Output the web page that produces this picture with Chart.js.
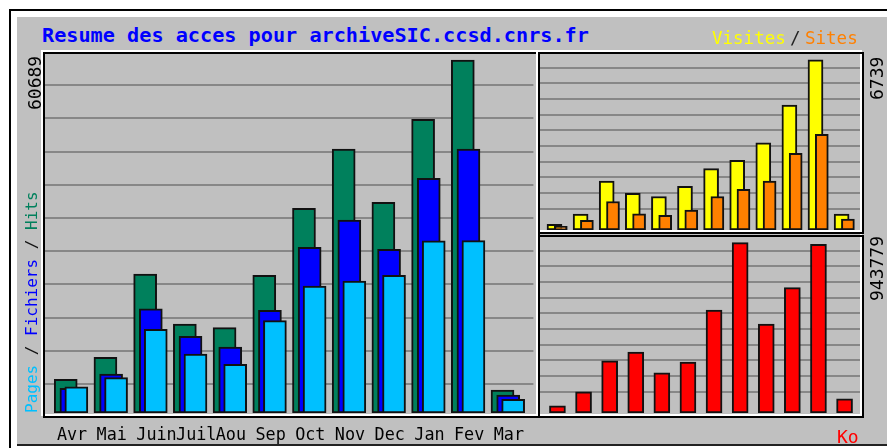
<!DOCTYPE html>
<html>
<head>
<meta charset="utf-8">
<script src="https://cdn.jsdelivr.net/npm/chart.js@4.4.0/dist/chart.umd.min.js"></script>
<style>
  html, body { margin: 0; padding: 0; background: #fff; width: 887px; height: 448px; overflow: hidden; }
  #page { position: relative; width: 887px; height: 448px; overflow: hidden; }
  .outer { position: absolute; left: 9px; top: 9px; width: 900px; height: 460px; border-left: 2px solid #000; border-top: 2px solid #000; }
  .panel { position: absolute; left: 17px; top: 17px; width: 880px; height: 427px; background: #c0c0c0; border-bottom: 2px solid #222; }
  canvas { position: absolute; }
  .frame { position: absolute; box-sizing: border-box; }
  .white { border: 2px solid #fff; }
  .black { border: 2px solid #000; }
  .txt { position: absolute; white-space: nowrap; font-family: "DejaVu Sans Mono", monospace; line-height: 1; }
  .up { transform: rotate(-90deg); transform-origin: 0 0; }
</style>
</head>
<body>
<div id="page">
  <div class="outer"></div>
  <div class="panel"></div>

  <canvas id="mainChart" width="494" height="394" style="left:43px;top:52px"></canvas>
  <canvas id="visitChart" width="322" height="178" style="left:539px;top:52px"></canvas>
  <canvas id="kbChart" width="322" height="178" style="left:539px;top:235px"></canvas>

  <!-- sunken frames like the original graph -->
  <div class="frame white" style="left:41px;top:50px;width:497px;height:366px"></div>
  <div class="frame black" style="left:43px;top:52px;width:497px;height:366px"></div>
  <div class="frame white" style="left:536px;top:50px;width:326px;height:182px"></div>
  <div class="frame black" style="left:538px;top:52px;width:326px;height:182px"></div>
  <div class="frame white" style="left:536px;top:234px;width:326px;height:182px;border-top:none"></div>
  <div class="frame black" style="left:538px;top:235px;width:326px;height:183px"></div>

  <div class="txt" style="left:42px;top:25px;font-size:20.2px;font-weight:bold;color:#0000ff">Resume des acces pour archiveSIC.ccsd.cnrs.fr</div>
  <div class="txt" style="left:712px;top:30px;font-size:17.5px;color:#ffff00">Visites</div>
  <div class="txt" style="left:790px;top:30px;font-size:17.5px;color:#222">/</div>
  <div class="txt" style="left:805px;top:30px;font-size:17.5px;color:#ff8000">Sites</div>
  <div class="txt up" style="left:23.5px;top:413px;font-size:16px"><span style="color:#00c0ff">Pages</span><span style="color:#111"> / </span><span style="color:#0000ff">Fichiers</span><span style="color:#111"> / </span><span style="color:#00805c">Hits</span></div>
  <div class="txt up" id="maxHits" style="left:26px;top:109.5px;font-size:18px;color:#000"></div>
  <div class="txt up" id="maxVisits" style="left:868px;top:99.5px;font-size:18px;color:#000"></div>
  <div class="txt up" id="maxKb" style="left:868px;top:301px;font-size:18px;color:#000"></div>
  <div class="txt" style="left:837px;top:428px;font-size:18px;color:#ff0000">Ko</div>
</div>

<script>
const months = ["Avr", "Mai", "Juin", "Juil", "Aou", "Sep", "Oct", "Nov", "Dec", "Jan", "Fev", "Mar"]

const hits = [5790, 9580, 23900, 15300, 14670, 23670, 35190, 45390, 36220, 50490, 60689, 3950]
const files = [4250, 6700, 17930, 13190, 11350, 17660, 28490, 33180, 28140, 40350, 45390, 3100]
const pages = [4520, 6070, 14390, 10140, 8370, 15870, 21830, 22690, 23670, 29620, 29640, 2360]

const visits = [225, 631, 1943, 1458, 1328, 1734, 2432, 2759, 3456, 4954, 6739, 631]
const sites = [146, 382, 1131, 642, 579, 788, 1328, 1616, 1943, 3035, 3795, 434]

const kbytes = [40400, 117800, 289300, 337500, 222900, 282100, 569800, 943779, 492300, 694800, 934900, 79100]

document.getElementById("maxHits").textContent = Math.max(...hits)
document.getElementById("maxVisits").textContent = Math.max(...visits)
document.getElementById("maxKb").textContent = Math.max(...kbytes)

// bars sit a little right of each month index so the three overlap like webalizer
function points(values, shift) {
  return values.map((v, i) => ({ x: i + shift, y: v }))
}

function bars(label, values, shift, color, thickness, order) {
  return {
    label: label,
    data: points(values, shift),
    backgroundColor: color,
    borderColor: "#111",
    borderWidth: 2,
    borderSkipped: false,
    barThickness: thickness,
    grouped: false,
    order: order,
  }
}

// evenly spaced horizontal rules counted from the top of the plot
function gridAxis(count) {
  return {
    axis: "y",
    position: "left",
    reverse: true,
    min: 0,
    max: count,
    afterBuildTicks: (scale) => {
      scale.ticks = [1, 2, 3, 4, 5, 6, 7, 8, 9, 10].map((v) => ({ value: v }))
    },
    ticks: { display: false },
    grid: { color: "#878787", lineWidth: 2, drawTicks: false },
    border: { display: false },
    afterFit: (scale) => { scale.width = 0 },
  }
}

const common = {
  responsive: false,
  animation: false,
  events: [],
  layout: { padding: 0, autoPadding: false },
  plugins: { legend: { display: false }, tooltip: { enabled: false } },
}

new Chart(document.getElementById("mainChart"), {
  type: "bar",
  data: {
    datasets: [
      bars("Pages", pages, 0.49, "#00c0ff", 23, 0),
      bars("Fichiers", files, 0.365, "#0000ff", 23, 1),
      bars("Hits", hits, 0.2225, "#00805c", 23, 2),
    ],
  },
  options: {
    ...common,
    scales: {
      x: {
        type: "linear",
        offset: false,
        min: -0.35,
        max: 12.0,
        afterBuildTicks: (scale) => {
          scale.ticks = months.map((m, i) => ({ value: i }))
        },
        ticks: {
          callback: (value) => months[value],
          font: { family: "DejaVu Sans Mono", size: 16.8 },
          color: "#000",
          padding: 13,
          align: "start",
          autoSkip: false,
          maxRotation: 0,
          minRotation: 0,
        },
        grid: { display: false, drawTicks: false, offset: false },
        border: { display: false },
        afterFit: (scale) => { scale.height = 33 },
      },
      y: { display: false, min: 0, max: 62063 },
      yGrid: gridAxis(10.873),
    },
  },
})

new Chart(document.getElementById("visitChart"), {
  type: "bar",
  data: {
    datasets: [
      bars("Sites", sites, 0.128, "#ff8000", 13, 0),
      bars("Visites", visits, -0.113, "#ffff00", 15, 1),
    ],
  },
  options: {
    ...common,
    scales: {
      x: { type: "linear", display: false, offset: false, min: -0.707, max: 11.63 },
      y: { display: false, min: 0, max: 7054 },
      yGrid: gridAxis(11.36),
    },
  },
})

new Chart(document.getElementById("kbChart"), {
  type: "bar",
  data: {
    datasets: [bars("Ko", kbytes, 0, "#ff0000", 16, 0)],
  },
  options: {
    ...common,
    scales: {
      x: { type: "linear", display: false, offset: false, min: -0.707, max: 11.63 },
      y: { display: false, min: 0, max: 986450 },
      yGrid: gridAxis(11.36),
    },
  },
})
</script>
</body>
</html>
